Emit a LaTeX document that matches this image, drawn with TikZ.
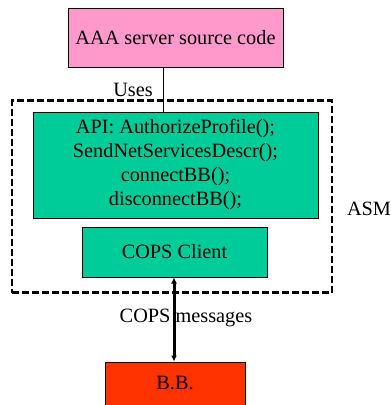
\documentclass[tikz,border=0pt]{standalone}
\usepackage{fontspec}
\setmainfont{Liberation Serif}
\usetikzlibrary{arrows.meta}
\definecolor{aaapink}{HTML}{FF99CC}
\definecolor{apigreen}{HTML}{00CC99}
\definecolor{bbred}{HTML}{FF3300}
\begin{document}
\begin{tikzpicture}[x=1pt,y=-1pt,
  box/.style={draw=black, line width=1pt, inner sep=0pt, align=center,
    font=\fontsize{20.3}{24}\selectfont},
  lbl/.style={inner sep=0pt, font=\fontsize{20.3}{24}\selectfont}]
\useasboundingbox (0,0) rectangle (391,405);
\node[draw=black, line width=2.8pt, dash pattern=on 7pt off 3pt,
  minimum width=320pt, minimum height=192pt, inner sep=0pt] (asm) at (172,196.5) {};
\node[box, fill=aaapink, minimum width=215pt, minimum height=59pt] (aaa) at (175.5,37.5) {AAA server source code};
\node[box, fill=apigreen, minimum width=285pt, minimum height=106pt] (api) at (175.5,165)
  {API: AuthorizeProfile();\\SendNetServicesDescr();\\connectBB();\\disconnectBB();};
\node[box, fill=apigreen, minimum width=185pt, minimum height=50pt] (cops) at (174.5,252) {COPS Client};
\node[box, fill=bbred, minimum width=140pt, minimum height=48pt] (bb) at (175,386) {};
\node[lbl] (bbt) at (175,383) {B.B.};
\draw[line width=1pt] ([xshift=-12.5pt]aaa.south) -- ([xshift=-12.5pt]api.north);
\draw[line width=3pt, {Latex[length=6pt,width=6pt]}-{Latex[length=6pt,width=6pt]}] (bb.north -| 174,0) -- (cops.south -| 174,0);
\node[lbl] (uses) at (133,90) {Uses};
\node[lbl] (asml) at (369,209) {ASM};
\node[lbl] (msgs) at (186,318) {COPS messages};
\end{tikzpicture}
\end{document}
